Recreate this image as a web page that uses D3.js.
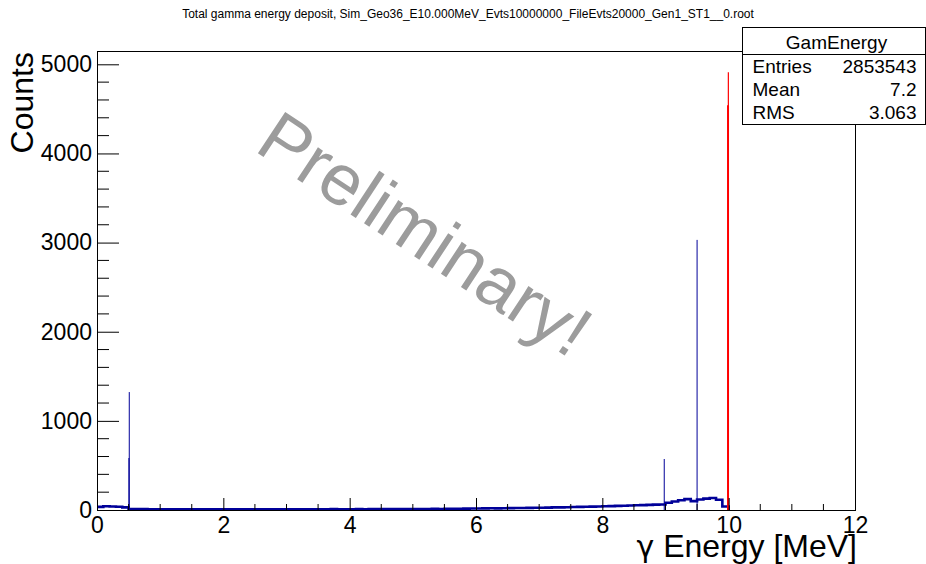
<!DOCTYPE html>
<html>
<head>
<meta charset="utf-8">
<script src="https://cdn.jsdelivr.net/npm/d3@7"></script>
<style>
  body { margin: 0; background: #fff; }
  svg { display: block; font-family: "Liberation Sans", Arial, sans-serif; }
</style>
</head>
<body>
<script>
// chart data
var titleText = "Total gamma energy deposit, Sim_Geo36_E10.000MeV_Evts10000000_FileEvts20000_Gen1_ST1__0.root";
var xTicks = [0, 2, 4, 6, 8, 10, 12];
var yTicks = [0, 1000, 2000, 3000, 4000, 5000];
var binWidth = 0.1; // MeV, continuum bins from 0 to 10 MeV
var continuum = [
  35, 42, 40, 36, 30, 11, 10, 10, 9, 9,
  9, 8, 9, 8, 8, 9, 8, 8, 9, 8,
  8, 8, 9, 8, 8, 9, 8, 9, 8, 8,
  9, 8, 9, 9, 8, 9, 9, 10, 9, 9,
  9, 10, 9, 10, 10, 10, 11, 10, 11, 11,
  12, 11, 12, 13, 12, 13, 14, 14, 15, 16,
  17, 18, 19, 18, 20, 21, 22, 23, 24, 25,
  26, 27, 29, 30, 31, 33, 35, 36, 38, 40,
  42, 44, 46, 48, 50, 53, 55, 58, 60, 62,
  82, 95, 110, 122, 100, 118, 128, 135, 115, 40
];
var peakEnergy = [0.505, 0.511, 8.98, 9.5];
var peakCounts = [583, 1323, 572, 3030];
var fullEnergy = [9.99, 9.995];
var fullCounts = [4540, 4910];
var statsName = "GamEnergy";
var statsLabels = ["Entries", "Mean", "RMS"];
var statsValues = ["2853543", "7.2", "3.063"];

var W = 926, H = 564;
var frame = {left: 97, right: 855, top: 51, bottom: 510};

var svg = d3.select("body").append("svg")
    .attr("width", W)
    .attr("height", H);

var x = d3.scaleLinear().domain([0, 12]).range([frame.left, frame.right]);
var y = d3.scaleLinear().domain([0, 4904 * 1.05]).range([frame.bottom, frame.top]);

// title
svg.append("text")
    .attr("x", 468).attr("y", 18)
    .attr("text-anchor", "middle")
    .style("font-size", "12px")
    .text(titleText);

// watermark
svg.append("text")
    .attr("transform", "translate(253,150) rotate(33.4)")
    .style("font-size", "72px")
    .style("fill", "#9c9c9c")
    .text("Preliminary!");

// continuum as step histogram
var steps = [];
continuum.forEach(function (c, i) {
  steps.push([i * binWidth, c]);
  steps.push([(i + 1) * binWidth, c]);
});
steps.push([continuum.length * binWidth, 0]);

svg.append("path")
    .datum(steps)
    .attr("fill", "none")
    .attr("stroke", "#000099")
    .attr("stroke-width", 2.6)
    .attr("d", d3.line().x(function (d) { return x(d[0]); }).y(function (d) { return y(d[1]); }));

// narrow peaks
svg.selectAll(".peak")
    .data(peakEnergy)
    .enter().append("line")
    .attr("class", "peak")
    .attr("x1", function (d) { return x(d); })
    .attr("x2", function (d) { return x(d); })
    .attr("y1", y(0))
    .attr("y2", function (d, i) { return y(peakCounts[i]); })
    .attr("stroke", "#000099")
    .attr("stroke-width", 1);

// full energy peak (red)
svg.selectAll(".full")
    .data(fullEnergy)
    .enter().append("line")
    .attr("class", "full")
    .attr("x1", function (d) { return x(d); })
    .attr("x2", function (d) { return x(d); })
    .attr("y1", y(0))
    .attr("y2", function (d, i) { return y(fullCounts[i]); })
    .attr("stroke", "#ff0000")
    .attr("stroke-width", function (d, i) { return i === 0 ? 2 : 1.2; });

// frame
svg.append("rect")
    .attr("x", frame.left + 0.5).attr("y", frame.top + 0.5)
    .attr("width", frame.right - frame.left).attr("height", frame.bottom - frame.top)
    .attr("fill", "none")
    .attr("stroke", "#000");

// x axis: ticks inside, labels below
var xAxis = d3.axisBottom(x).tickValues(xTicks).tickSize(-12).tickPadding(10).tickFormat(d3.format("d"));
var gx = svg.append("g")
    .attr("transform", "translate(0," + frame.bottom + ")")
    .call(xAxis);
gx.select(".domain").remove();
gx.selectAll("text").style("font-size", "23px").attr("dy", 0).attr("y", 23).attr("fill", "#000");
gx.selectAll(".tick line").attr("stroke", "#000");

var xMinor = d3.range(0, 12.01, 0.5).filter(function (v) { return v % 2 !== 0; });
svg.selectAll(".xminor")
    .data(xMinor)
    .enter().append("line")
    .attr("x1", function (d) { return x(d); })
    .attr("x2", function (d) { return x(d); })
    .attr("y1", frame.bottom)
    .attr("y2", frame.bottom - 6)
    .attr("stroke", "#000");

// y axis
var yAxis = d3.axisLeft(y).tickValues(yTicks).tickSize(-22).tickPadding(5).tickFormat(d3.format("d"));
var gy = svg.append("g")
    .attr("transform", "translate(" + frame.left + ",0)")
    .call(yAxis);
gy.select(".domain").remove();
gy.selectAll("text").style("font-size", "23px").attr("x", -5).attr("fill", "#000");
gy.selectAll(".tick line").attr("stroke", "#000");

var yMinor = d3.range(0, 5149, 200).filter(function (v) { return v % 1000 !== 0; });
svg.selectAll(".yminor")
    .data(yMinor)
    .enter().append("line")
    .attr("x1", frame.left)
    .attr("x2", frame.left + 12)
    .attr("y1", function (d) { return y(d); })
    .attr("y2", function (d) { return y(d); })
    .attr("stroke", "#000");

// axis titles
var xt = svg.append("text")
    .attr("x", 857).attr("y", 557)
    .attr("text-anchor", "end")
    .style("font-size", "32px");
xt.append("tspan").style("font-family", "'DejaVu Sans'").style("font-size", "30px").text("\u03b3");
xt.append("tspan").text(" Energy [MeV]");

svg.append("text")
    .attr("transform", "translate(33,52) rotate(-90)")
    .attr("text-anchor", "end")
    .style("font-size", "32px")
    .text("Counts");

// stats box
var box = svg.append("g").attr("transform", "translate(742.5,27.5)");
box.append("rect")
    .attr("width", 183).attr("height", 97)
    .attr("fill", "#fff").attr("stroke", "#000");
box.append("line")
    .attr("x1", 0).attr("x2", 183).attr("y1", 27).attr("y2", 27)
    .attr("stroke", "#000");
box.append("text")
    .attr("x", 94).attr("y", 21)
    .attr("text-anchor", "middle")
    .style("font-size", "19px")
    .text(statsName);
statsLabels.forEach(function (l, i) {
  box.append("text")
      .attr("x", 10).attr("y", 45 + i * 23)
      .style("font-size", "19px")
      .text(l);
  box.append("text")
      .attr("x", 174).attr("y", 45 + i * 23)
      .attr("text-anchor", "end")
      .style("font-size", "19px")
      .text(statsValues[i]);
});
</script>
</body>
</html>
